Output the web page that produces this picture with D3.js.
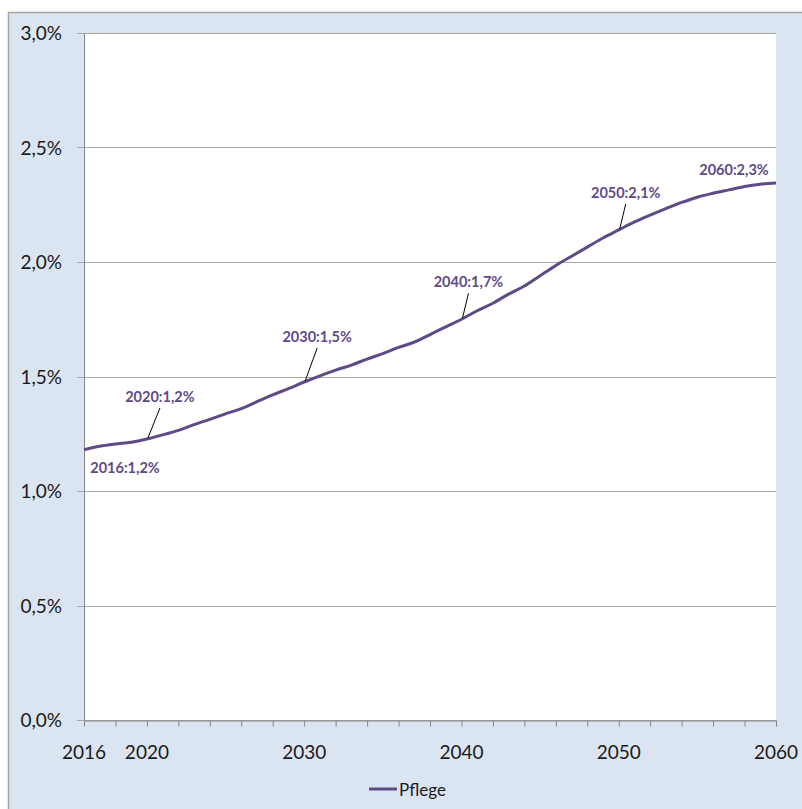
<!DOCTYPE html>
<html>
<head>
<meta charset="utf-8">
<script src="https://cdn.jsdelivr.net/npm/d3@7"></script>
<style>
  body { margin: 0; background: #fff; }
  svg { display: block; font-family: Lato, "Liberation Sans", sans-serif; }
</style>
</head>
<body>
<div id="chart"></div>
<script>
// Pflege share, yearly 2016-2060 (in %)
const years = d3.range(2016, 2061);
const pflege = [
  1.180, 1.195, 1.205, 1.213, 1.227, 1.245, 1.265, 1.290, 1.313, 1.337,
  1.360, 1.390, 1.420, 1.447, 1.476, 1.503, 1.528, 1.550, 1.576, 1.600,
  1.627, 1.650, 1.683, 1.717, 1.750, 1.787, 1.820, 1.860, 1.895, 1.940,
  1.985, 2.025, 2.065, 2.105, 2.140, 2.175, 2.205, 2.233, 2.260, 2.283,
  2.300, 2.315, 2.330, 2.340, 2.345
];
const yTicks = [0, 0.5, 1.0, 1.5, 2.0, 2.5, 3.0];
const xLabelYears = [2016, 2020, 2030, 2040, 2050, 2060];
const seriesName = "Pflege";

// data labels: year, text, offset of label from point, leader line?
const dataLabels = [
  {year: 2016, text: "2016:1,2%", dx: 41, dy: 23, leader: false},
  {year: 2020, text: "2020:1,2%", dx: 13, dy: -37, leader: true},
  {year: 2030, text: "2030:1,5%", dx: 13, dy: -40, leader: true},
  {year: 2040, text: "2040:1,7%", dx: 7, dy: -32, leader: true},
  {year: 2050, text: "2050:2,1%", dx: 7, dy: -32, leader: true},
  {year: 2060, text: "2060:2,3%", dx: -42, dy: -8, leader: false}
];

const W = 802, H = 809;
const plot = {left: 84, top: 33, right: 776, bottom: 720};
const purple = "#5f4a87";

const svg = d3.select("#chart").append("svg")
  .attr("width", W).attr("height", H);

// chart area background
svg.append("rect")
  .attr("x", 8.5).attr("y", 12.5)
  .attr("width", W + 10).attr("height", H + 10)
  .attr("fill", "#dbe5f1")
  .attr("stroke", "#a5a5a5").attr("stroke-width", 1.5);

svg.append("rect")
  .attr("x", plot.left).attr("y", plot.top)
  .attr("width", plot.right - plot.left).attr("height", plot.bottom - plot.top)
  .attr("fill", "#fff");

const x = d3.scaleLinear().domain([2016, 2060]).range([plot.left, plot.right]);
const y = d3.scaleLinear().domain([0, 3]).range([plot.bottom, plot.top]);
const fmt = v => d3.format(".1f")(v).replace(".", ",") + "%";

// gridlines + y labels
const yg = svg.append("g");
yg.selectAll("line").data(yTicks).join("line")
  .attr("x1", plot.left - 7).attr("x2", plot.right)
  .attr("y1", d => Math.round(y(d)) + 0.5).attr("y2", d => Math.round(y(d)) + 0.5)
  .attr("stroke", "#a9a9a9").attr("stroke-width", 1);
yg.selectAll("text").data(yTicks).join("text")
  .attr("x", 62).attr("y", d => y(d) + 7)
  .attr("text-anchor", "end")
  .attr("font-size", 19).attr("fill", "#1a1a1a")
  .text(fmt);

// y axis line
svg.append("line")
  .attr("x1", plot.left + 0.5).attr("x2", plot.left + 0.5)
  .attr("y1", plot.top).attr("y2", plot.bottom)
  .attr("stroke", "#868686");

// x axis with ticks every 2 years
const xAxis = d3.axisBottom(x)
  .tickValues(d3.range(2016, 2061, 2))
  .tickSize(6).tickFormat("");
const xg = svg.append("g")
  .attr("transform", `translate(0,${plot.bottom + 0.5})`)
  .call(xAxis);
xg.select(".domain").attr("stroke", "#868686");
xg.selectAll(".tick line").attr("stroke", "#868686");

svg.append("g").selectAll("text").data(xLabelYears).join("text")
  .attr("x", d => x(d)).attr("y", 759)
  .attr("text-anchor", "middle")
  .attr("font-size", 19).attr("fill", "#1a1a1a")
  .text(d => d);

// line
const line = d3.line()
  .x((d, i) => x(years[i]))
  .y(d => y(d))
  .curve(d3.curveMonotoneX);
svg.append("path")
  .datum(pflege)
  .attr("d", line)
  .attr("fill", "none")
  .attr("stroke", purple)
  .attr("stroke-width", 3)
  .attr("stroke-linejoin", "round");

// data labels
const lab = svg.append("g");
dataLabels.forEach(d => {
  const px = x(d.year), py = y(pflege[years.indexOf(d.year)]);
  const tx = px + d.dx, ty = py + d.dy;
  if (d.leader) {
    lab.append("line")
      .attr("x1", tx).attr("y1", ty + 6)
      .attr("x2", px + 1).attr("y2", py - 1)
      .attr("stroke", "#000").attr("stroke-width", 1);
  }
  lab.append("text")
    .attr("x", tx).attr("y", ty)
    .attr("text-anchor", "middle")
    .attr("font-size", 14.5).attr("font-weight", "bold")
    .attr("fill", purple)
    .text(d.text);
});

// legend
const lg = svg.append("g").attr("transform", "translate(369,789)");
lg.append("line").attr("x1", 0).attr("x2", 28).attr("y1", 0).attr("y2", 0)
  .attr("stroke", purple).attr("stroke-width", 3);
lg.append("text").attr("x", 30).attr("y", 6.5)
  .attr("font-size", 17).attr("fill", "#1a1a1a")
  .text(seriesName);
</script>
</body>
</html>
